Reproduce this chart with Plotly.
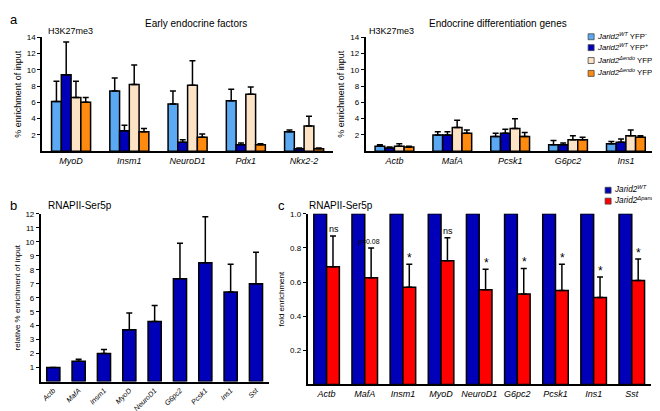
import plotly.graph_objects as go

FONT = "Arial, Liberation Sans, sans-serif"

# ---------- Panel a data ----------
a_left_genes = ["MyoD", "Insm1", "NeuroD1", "Pdx1", "Nkx2-2"]
a_right_genes = ["Actb", "MafA", "Pcsk1", "G6pc2", "Ins1"]
a_labels = [
    "<i>Jarid2</i><sup><i>WT</i></sup> YFP<sup>-</sup>",
    "<i>Jarid2</i><sup><i>WT</i></sup> YFP<sup>+</sup>",
    "<i>Jarid2</i><sup><i>Δendo</i></sup> YFP<sup>-</sup>",
    "<i>Jarid2</i><sup><i>Δendo</i></sup> YFP<sup>+</sup>",
]
a_colors = ["#5aa9f2", "#0000b8", "#fde3c6", "#ff8a10"]

a_left_vals = [
    [6.1, 7.4, 5.8, 6.2, 2.4],
    [9.4, 2.5, 1.1, 0.8, 0.3],
    [6.6, 8.2, 8.1, 7.0, 3.1],
    [6.0, 2.4, 1.7, 0.8, 0.3],
]
a_left_tops = [
    [8.6, 9.0, 7.4, 7.6, 2.6],
    [13.4, 3.2, 1.4, 1.0, 0.4],
    [8.6, 10.6, 11.1, 7.9, 4.3],
    [6.6, 2.8, 2.1, 0.9, 0.4],
]
a_right_vals = [
    [0.6, 2.0, 1.8, 0.8, 0.9],
    [0.4, 2.0, 2.2, 0.8, 1.1],
    [0.6, 2.9, 2.8, 1.4, 1.9],
    [0.5, 2.2, 1.8, 1.4, 1.7],
]
a_right_tops = [
    [0.8, 2.4, 2.2, 1.3, 1.2],
    [0.5, 2.4, 2.7, 1.0, 1.5],
    [0.9, 3.8, 4.0, 1.9, 2.6],
    [0.6, 2.6, 2.3, 1.7, 1.9],
]

# ---------- Panel b data ----------
b_genes = ["Actb", "MafA", "Insm1", "MyoD", "NeuroD1", "G6pc2", "Pcsk1", "Ins1", "Sst"]
b_vals = [1.0, 1.45, 2.0, 3.7, 4.3, 7.35, 8.5, 6.4, 7.0]
b_tops = [1.0, 1.6, 2.3, 4.9, 5.45, 9.9, 11.8, 8.4, 9.25]

# ---------- Panel c data ----------
c_genes = ["Actb", "MafA", "Insm1", "MyoD", "NeuroD1", "G6pc2", "Pcsk1", "Ins1", "Sst"]
c_labels = ["<i>Jarid2</i><sup><i>WT</i></sup>", "<i>Jarid2</i><sup><i>Δpanc</i></sup>"]
c_colors = ["#0000b8", "#ff0000"]
c_wt = [1.0] * 9
c_panc = [0.69, 0.625, 0.57, 0.725, 0.555, 0.53, 0.55, 0.51, 0.61]
c_panc_tops = [0.87, 0.80, 0.705, 0.86, 0.675, 0.68, 0.705, 0.63, 0.735]
c_sig = ["ns", "p=0.08", "*", "ns", "*", "*", "*", "*", "*"]

fig = go.Figure()

def err(vals, tops):
    return dict(type="data", symmetric=False,
                array=[t - v for v, t in zip(vals, tops)],
                arrayminus=[0] * len(vals),
                color="black", thickness=1.5, width=3)

line = dict(color="black", width=1.5)

for i in range(4):
    fig.add_trace(go.Bar(x=a_left_genes, y=a_left_vals[i], name=a_labels[i],
                         marker=dict(color=a_colors[i], line=line),
                         error_y=err(a_left_vals[i], a_left_tops[i]),
                         xaxis="x", yaxis="y"))
for i in range(4):
    fig.add_trace(go.Bar(x=a_right_genes, y=a_right_vals[i], name=a_labels[i],
                         marker=dict(color=a_colors[i], line=line),
                         error_y=err(a_right_vals[i], a_right_tops[i]),
                         xaxis="x2", yaxis="y2"))

fig.add_trace(go.Bar(x=b_genes, y=b_vals, width=0.52,
                     marker=dict(color="#0000b8", line=line),
                     error_y=err(b_vals, b_tops), xaxis="x3", yaxis="y3"))

fig.add_trace(go.Bar(x=c_genes, y=c_wt, name=c_labels[0],
                     marker=dict(color=c_colors[0], line=line),
                     xaxis="x4", yaxis="y4"))
fig.add_trace(go.Bar(x=c_genes, y=c_panc, name=c_labels[1],
                     marker=dict(color=c_colors[1], line=line),
                     error_y=err(c_panc, c_panc_tops),
                     xaxis="x4", yaxis="y4"))

tickfont = dict(family=FONT, size=8, color="black")
xbase = dict(type="category", showline=True, linecolor="black", linewidth=2,
             ticks="", showgrid=False, zeroline=False,
             tickfont=dict(family=FONT, size=9, color="black"))
ybase = dict(showline=True, linecolor="black", linewidth=1.5, ticks="outside",
             ticklen=3, tickwidth=1, tickcolor="black", showgrid=False, zeroline=False,
             tickfont=tickfont)

def ital(lst):
    return ["<i>%s</i>" % s for s in lst]

fig.update_layout(
    width=660, height=411, margin=dict(l=0, r=0, t=0, b=0),
    paper_bgcolor="white", plot_bgcolor="white", showlegend=False,
    barmode="group", bargap=0.33, bargroupgap=0,
    font=dict(family=FONT, color="black"),
    xaxis=dict(xbase, domain=[0.05, 0.492], anchor="y",
               tickvals=a_left_genes, ticktext=ital(a_left_genes)),
    yaxis=dict(ybase, domain=[0.658, 0.938], anchor="x", range=[0, 14],
               tickvals=[2, 4, 6, 8, 10, 12, 14],
               title=dict(text="% enrichment of input", font=dict(size=9), standoff=4)),
    xaxis2=dict(xbase, domain=[0.541, 0.98], anchor="y2",
                tickvals=a_right_genes, ticktext=ital(a_right_genes)),
    yaxis2=dict(ybase, domain=[0.658, 0.938], anchor="x2", range=[0, 14],
                tickvals=[2, 4, 6, 8, 10, 12, 14],
                title=dict(text="% enrichment of input", font=dict(size=9), standoff=4)),
    xaxis3=dict(xbase, domain=[0.048, 0.394], anchor="y3", tickangle=-45,
                tickvals=b_genes, ticktext=ital(b_genes),
                tickfont=dict(family=FONT, size=7.2, color="black")),
    yaxis3=dict(ybase, domain=[0.092, 0.504], anchor="x3", range=[0, 12],
                tickvals=list(range(1, 13)),
                title=dict(text="relative % enrichment of input", font=dict(size=8), standoff=4)),
    xaxis4=dict(xbase, domain=[0.453, 0.974], anchor="y4",
                tickvals=c_genes, ticktext=ital(c_genes)),
    yaxis4=dict(ybase, domain=[0.085, 0.504], anchor="x4", range=[0, 1.0],
                tickvals=[0.2, 0.4, 0.6, 0.8, 1.0], tickformat=".1f",
                title=dict(text="fold enrichment", font=dict(size=8), standoff=4)),
)

ann = [
    dict(text="a", x=5 / 660, y=1 - 8 / 411, font=dict(size=13)),
    dict(text="b", x=5 / 660, y=1 - 195 / 411, font=dict(size=13)),
    dict(text="c", x=273 / 660, y=1 - 195 / 411, font=dict(size=13)),
    dict(text="Early endocrine factors", x=187 / 660, y=1 - 12 / 411, font=dict(size=10)),
    dict(text="Endocrine differentiation genes", x=490 / 660, y=1 - 12 / 411, font=dict(size=10)),
    dict(text="H3K27me3", x=62 / 660, y=1 - 19 / 411, font=dict(size=9)),
    dict(text="H3K27me3", x=383 / 660, y=1 - 19 / 411, font=dict(size=9)),
    dict(text="RNAPII-Ser5p", x=71 / 660, y=1 - 195 / 411, font=dict(size=10)),
    dict(text="RNAPII-Ser5p", x=333 / 660, y=1 - 195 / 411, font=dict(size=10)),
]
for a in ann:
    a.update(xref="paper", yref="paper", showarrow=False, xanchor="center", yanchor="middle")
    fig.add_annotation(**a)

# manual legends
def legend_item(xpx, ypx, color, label, size):
    fig.add_shape(type="rect", xref="paper", yref="paper",
                  x0=xpx / 660, x1=(xpx + 6) / 660,
                  y0=1 - (ypx + 3) / 411, y1=1 - (ypx - 3) / 411,
                  fillcolor=color, line=dict(color="#444444", width=0.8))
    fig.add_annotation(x=(xpx + 7) / 660, y=1 - (ypx - 1) / 411, xref="paper", yref="paper",
                       text=label, showarrow=False, xanchor="left", yanchor="middle",
                       font=dict(size=size, family=FONT))

a_leg_y = [25, 36, 49, 62]
for i in range(4):
    legend_item(580, a_leg_y[i], a_colors[i], a_labels[i], 7.8)
c_leg_y = [180, 191]
for i in range(2):
    legend_item(597, c_leg_y[i], c_colors[i], c_labels[i], 8.2)

for g, top, s in zip(c_genes, c_panc_tops, c_sig):
    fig.add_annotation(x=g, y=top, xref="x4", yref="y4", text=s, showarrow=False,
                       xshift=7 if s != "p=0.08" else 4, yanchor="bottom",
                       yshift=-3 if s == "*" else 0,
                       font=dict(size=12 if s == "*" else 9 if s == "ns" else 7, family=FONT))

fig.write_html("out.html")
